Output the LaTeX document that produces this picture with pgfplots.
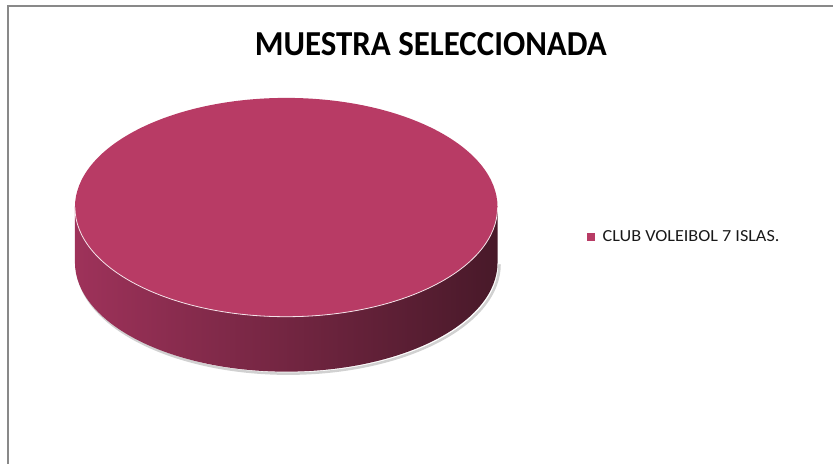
\documentclass[border=0pt]{standalone}
\usepackage{fontspec}
\setmainfont{Carlito}
\usepackage{graphicx}
\usepackage{pgfplots}
\usepackage{pgfplotstable}
\pgfplotsset{compat=1.18}

\definecolor{pietop}{RGB}{184,59,101}
\definecolor{sideL}{RGB}{158,50,90}
\definecolor{sideM}{RGB}{108,34,64}
\definecolor{sideR}{RGB}{72,25,41}
\definecolor{framegray}{RGB}{137,137,137}

% muestra: una sola categoria
\pgfplotstableread[col sep=semicolon]{
label;value
CLUB VOLEIBOL 7 ISLAS.;100
}\muestra
\pgfplotstablegetelem{0}{value}\of\muestra
\let\val\pgfplotsretval
\pgfplotstablegetelem{0}{label}\of\muestra
\let\lab\pgfplotsretval
\pgfmathsetmacro\sweep{360*(\val/\val)}

% geometria del pastel (pt)
\def\cx{286.5}\def\cy{256.5}\def\rx{211.5}\def\ry{109.5}\def\dep{55}

\begin{document}
\begin{tikzpicture}
\begin{axis}[
    width=834pt, height=464pt, scale only axis,
    xmin=0, xmax=834, ymin=0, ymax=464,
    hide axis, clip=false,
]
% area total de la figura
\path (axis cs:0,0) rectangle (axis cs:834,464);
% marco
\draw[framegray, line width=1.5pt] (axis cs:8,0) -- (axis cs:8,458) -- (axis cs:834,458);
% titulo
\node[anchor=south west, inner sep=0pt] at (axis cs:255,408)
    {\resizebox{352pt}{23pt}{\bfseries MUESTRA SELECCIONADA}};
% sombra
\draw[black!18, line width=2.5pt] (axis cs:{\cx-\rx+2},{\cy-\dep-2})
    arc[start angle=180, end angle=360, x radius=\rx, y radius=\ry];
% lado
\shade[left color=sideL, middle color=sideM, right color=sideR]
    (axis cs:{\cx-\rx},\cy) arc[start angle=180, end angle=360, x radius=\rx, y radius=\ry]
    -- (axis cs:{\cx+\rx},{\cy-\dep}) arc[start angle=0, end angle=-180, x radius=\rx, y radius=\ry]
    -- cycle;
% cara superior
\fill[pietop] (axis cs:\cx,{\cy+\ry})
    arc[start angle=90, delta angle=-\sweep, x radius=\rx, y radius=\ry]
    -- (axis cs:\cx,\cy) -- cycle;
\draw[white!85!pietop, line width=0.8pt] (axis cs:{\cx-\rx},\cy)
    arc[start angle=180, end angle=360, x radius=\rx, y radius=\ry];
% leyenda
\fill[pietop] (axis cs:588,223) rectangle (axis cs:596,231);
\node[anchor=south west, inner sep=0pt, text=black!90] at (axis cs:603,222)
    {\resizebox{177pt}{11pt}{\lab}};
\end{axis}
\end{tikzpicture}
\end{document}
